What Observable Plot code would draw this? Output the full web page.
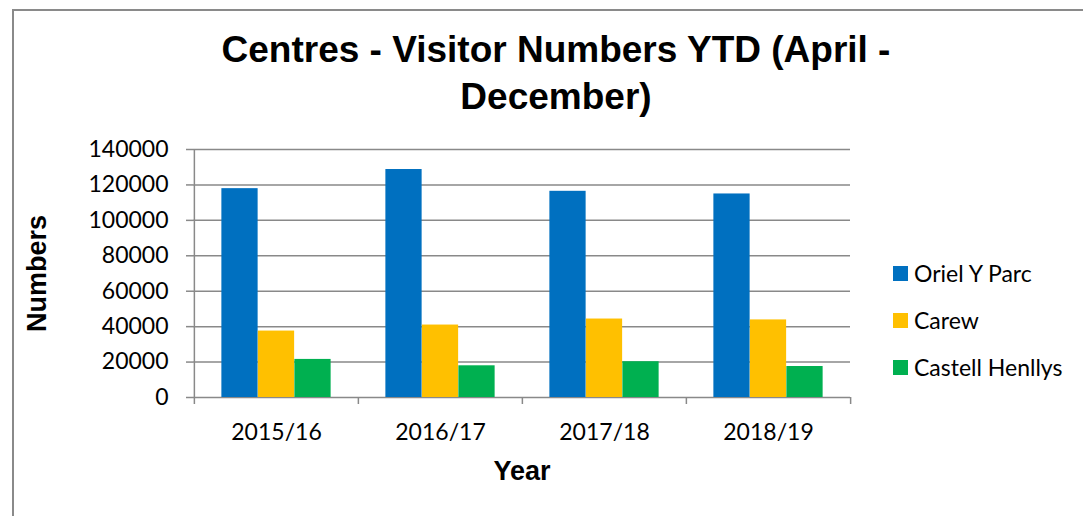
<!DOCTYPE html>
<html><head><meta charset="utf-8">
<script src="https://cdn.jsdelivr.net/npm/d3@7"></script>
<script src="https://cdn.jsdelivr.net/npm/@observablehq/plot@0.6"></script>
<style>
html,body{margin:0;padding:0;background:#fff;}
#wrap{position:relative;width:1083px;height:516px;overflow:hidden;background:#fff;}
#border{position:absolute;left:12px;top:9px;width:1200px;height:600px;border:2px solid #8a8a8a;box-sizing:border-box;}
#title{position:absolute;left:0;width:1112px;top:26px;text-align:center;font:bold 37px "Liberation Sans",Arial,sans-serif;line-height:47px;color:#000;}
#chart{position:absolute;left:0;top:0;}
#legend{position:absolute;left:893px;top:0;font:23px Lato,sans-serif;color:#000;}
.item{position:absolute;left:0;white-space:nowrap;display:flex;align-items:center;height:30px;}
.sw{width:15px;height:15px;margin-right:6px;flex:none;}
</style></head>
<body>
<div id="wrap">
  <div id="border"></div>
  <div id="chart"></div>
  <div id="title">Centres - Visitor Numbers YTD (April -<br>December)</div>
  <div id="legend"></div>
</div>
<script>
const years = ["2015/16", "2016/17", "2017/18", "2018/19"];
const series = ["Oriel Y Parc", "Carew", "Castell Henllys"];
const colors = ["#0070C0", "#FFC000", "#00B050"];
const orielYParc = [117900, 128700, 116400, 114900];
const carew = [37500, 40900, 44300, 43800];
const castellHenllys = [21500, 17900, 20200, 17500];
const yTicks = [0, 20000, 40000, 60000, 80000, 100000, 120000, 140000];
const yLabel = "Numbers";
const xLabel = "Year";

const seriesValues = [orielYParc, carew, castellHenllys];
const data = years.flatMap((year, j) => series.map((s, i) => ({year, series: s, value: seriesValues[i][j]})));

const W = 1083, H = 516, mL = 193, mR = 233, mT = 149, mB = 119;
const bw = (W - mL - mR) / years.length;
const w = bw / 4.5;
const gray = "#898989";

const barMarks = series.map((s, i) => Plot.barY(data.filter(d => d.series === s), {
  x: "year", y: "value", fill: "series",
  insetLeft: 0.75 * w + i * w,
  insetRight: bw - 0.75 * w - (i + 1) * w
}));

const plot = Plot.plot({
  width: W, height: H,
  marginLeft: mL, marginRight: mR, marginTop: mT, marginBottom: mB,
  x: {domain: years, padding: 0},
  y: {domain: [0, 140000]},
  color: {domain: series, range: colors},
  style: {background: "transparent", overflow: "visible"},
  marks: [
    Plot.gridY(yTicks, {stroke: gray, strokeOpacity: 1, strokeWidth: 1.5}),
    ...barMarks,
    Plot.ruleX([years[0]], {x: d => d, dx: -bw / 2, insetBottom: -7, stroke: gray, strokeWidth: 1.5}),
    Plot.ruleX(years.slice(1), {x: d => d, dx: -bw / 2, y1: 0, y2: 0, insetBottom: -7, stroke: gray, strokeWidth: 1.5}),
    Plot.ruleX([years[years.length - 1]], {x: d => d, dx: bw / 2, y1: 0, y2: 0, insetBottom: -7, stroke: gray, strokeWidth: 1.5}),
    Plot.axisY(yTicks, {tickSize: 7, tickPadding: 18, stroke: gray, strokeWidth: 1.5, fill: "#000", tickFormat: d => String(d), fontSize: 23, fontFamily: "Lato", label: null}),
    Plot.axisX({tickSize: 0, tickPadding: 26, fill: "#000", fontSize: 23, fontFamily: "Lato", label: null}),
    Plot.text([yLabel], {text: d => d, frameAnchor: "left", textAnchor: "middle", lineAnchor: "middle", dx: -156, rotate: -90, fontSize: 27, fontWeight: "bold", fontFamily: "Liberation Sans", fill: "#000"}),
    Plot.text([xLabel], {text: d => d, frameAnchor: "bottom", textAnchor: "middle", lineAnchor: "middle", dy: 74, fontSize: 27, fontWeight: "bold", fontFamily: "Liberation Sans", fill: "#000"})
  ]
});
document.getElementById("chart").appendChild(plot);

const legend = document.getElementById("legend");
const centers = [273, 320, 367];
series.forEach((s, i) => {
  const item = document.createElement("div");
  item.className = "item";
  item.style.top = (centers[i] - 15) + "px";
  const sw = document.createElement("span");
  sw.className = "sw";
  sw.style.background = colors[i];
  const t = document.createElement("span");
  t.textContent = s;
  item.appendChild(sw);
  item.appendChild(t);
  legend.appendChild(item);
});
</script>
</body></html>
